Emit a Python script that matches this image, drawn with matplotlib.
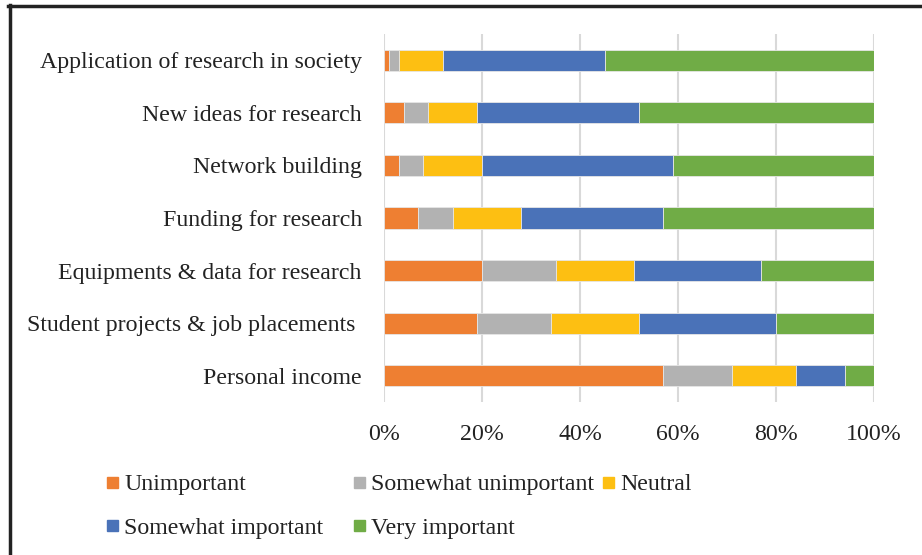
import numpy as np
import matplotlib.pyplot as plt
from matplotlib.patches import Rectangle
from matplotlib.lines import Line2D

plt.rcParams['font.family'] = ['Liberation Serif', 'DejaVu Serif']

categories = [
    "Application of research in society",
    "New ideas for research",
    "Network building",
    "Funding for research",
    "Equipments & data for research",
    "Student projects & job placements ",
    "Personal income",
]
levels = ["Unimportant", "Somewhat unimportant", "Neutral",
          "Somewhat important", "Very important"]

# share of responses (%) per category, in the order of `levels`
unimportant = [1, 4, 3, 7, 20, 19, 57]
somewhat_unimportant = [2, 5, 5, 7, 15, 15, 14]
neutral = [9, 10, 12, 14, 16, 18, 13]
somewhat_important = [33, 33, 39, 29, 26, 28, 10]
very_important = [55, 48, 41, 43, 23, 20, 6]

colors = ["#EE7F32", "#B2B2B2", "#FDBF12", "#4A72B8", "#70AC46"]

W, H = 922, 555
fig = plt.figure(figsize=(W / 100, H / 100), dpi=100)


def fx(x):
    return x / W


def fy(y):
    return 1 - y / H


ax = fig.add_axes([fx(384), fy(402), fx(874) - fx(384), fy(34) - fy(402)])

series = [unimportant, somewhat_unimportant, neutral, somewhat_important, very_important]
ypos = np.arange(len(categories))
left = np.zeros(len(categories))
for vals, col, name in zip(series, colors, levels):
    ax.barh(ypos, vals, left=left, height=0.4, color=col, label=name,
            edgecolor="#e6e6e6", linewidth=0.6, zorder=3)
    left += np.array(vals)

ax.set_ylim(len(categories) - 0.5, -0.5)
ax.set_xlim(0, 100)
ax.set_yticks(ypos)
ax.set_yticklabels(categories, fontsize=17.2, color="#222222")
ax.set_xticks(np.arange(0, 101, 20))
ax.set_xticklabels([f"{v}%" for v in range(0, 101, 20)], fontsize=17.2, color="#222222")
ax.tick_params(axis="y", length=0, pad=16)
ax.tick_params(axis="x", length=0, pad=16)
ax.grid(axis="x", color="#d9d9d9", linewidth=1.5, zorder=0)
for s in ax.spines.values():
    s.set_visible(False)

# legend laid out by hand, two rows
legend_slots = [(107, 482, 0), (354, 482, 1), (603, 482, 2),
                (107, 525.5, 3), (354, 525.5, 4)]
for x0, yc, i in legend_slots:
    fig.patches.append(Rectangle((fx(x0), fy(yc + 5.5)), 11 / W, 11 / H,
                                 transform=fig.transFigure, color=colors[i]))
    fig.text(fx(x0 + 17), fy(yc + 8.3), levels[i], fontsize=17.2,
             color="#222222", va="baseline", ha="left")

# frame around the figure (left and top edges)
fig.add_artist(Line2D([fx(9.5), fx(9.5)], [0, fy(5)], transform=fig.transFigure,
                      color="#222222", linewidth=2.5))
fig.add_artist(Line2D([fx(8), 1], [fy(5.5), fy(5.5)], transform=fig.transFigure,
                      color="#222222", linewidth=2.5))

fig.savefig("out.png", dpi=100)
